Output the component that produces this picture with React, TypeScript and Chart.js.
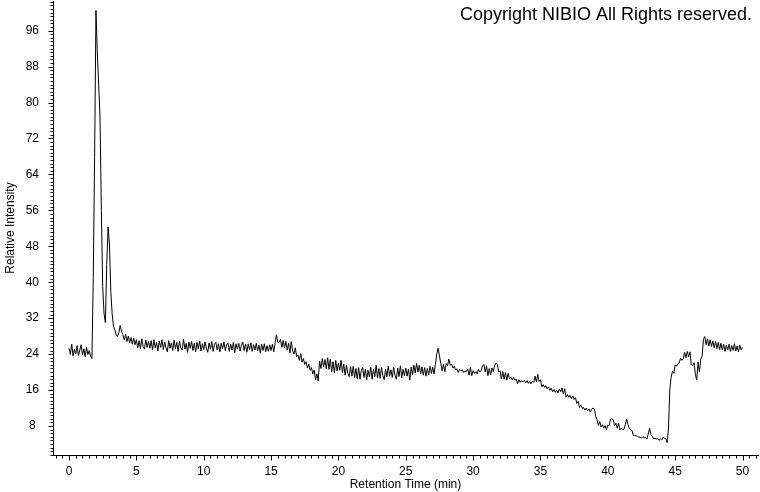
import React, { useEffect, useRef } from 'react';
import { Chart, registerables } from 'chart.js';

Chart.register(...registerables);

// Sampling grid of the chromatogram (minutes)
const sampleStart = 0;
const sampleStep = 0.1;

// Relative intensity, one row per minute (t = m.0 … m.9), last value at 50.0
const intensity: number[] = [
  25.3, 23.9, 26.2, 23.6, 25.1, 24.0, 25.9, 23.7, 24.9, 26.1, // 0
  23.8, 25.2, 23.4, 25.5, 23.9, 24.8, 23.5, 23.0, 41.0, 68.0, // 1
  100.5, 91.0, 84.0, 77.0, 56.0, 39.0, 33.0, 31.0, 44.0, 52.3, // 2
  48.5, 38.0, 33.0, 30.2, 29.4, 28.3, 27.9, 28.8, 30.4, 29.1, // 3
  28.3, 27.1, 28.4, 26.8, 28.0, 26.5, 27.7, 26.2, 27.6, 26.1, // 4
  27.2, 25.4, 27.0, 25.2, 27.4, 25.7, 25.1, 27.1, 25.5, 26.8, // 5
  25.3, 27.0, 24.9, 27.2, 25.4, 26.6, 24.7, 26.9, 25.5, 27.2, // 6
  25.0, 26.7, 25.4, 24.5, 27.0, 25.3, 26.5, 24.8, 27.1, 25.2, // 7
  26.6, 24.6, 26.9, 25.4, 24.9, 27.3, 25.1, 26.4, 24.4, 26.7, // 8
  25.3, 26.8, 24.8, 26.4, 24.5, 26.6, 25.2, 26.9, 24.7, 26.3, // 9
  25.0, 26.7, 25.3, 24.4, 26.5, 25.1, 26.8, 24.6, 26.2, 26.6, // 10
  24.9, 26.3, 24.5, 26.4, 25.2, 26.7, 24.8, 26.1, 26.5, 24.6, // 11
  26.2, 24.9, 26.6, 24.3, 26.3, 25.1, 26.4, 24.7, 26.0, 26.7, // 12
  24.8, 26.2, 24.4, 26.3, 25.0, 26.5, 24.6, 26.1, 24.9, 26.4, // 13
  24.7, 26.0, 24.2, 26.2, 24.8, 26.3, 24.5, 25.9, 24.6, 26.1, // 14
  24.8, 26.2, 24.5, 26.5, 28.3, 26.6, 26.6, 27.3, 25.5, 27.0, // 15
  25.4, 26.8, 24.9, 26.4, 24.3, 26.8, 24.7, 24.0, 25.4, 23.4, // 16
  23.8, 22.6, 24.1, 22.2, 23.0, 21.7, 22.3, 20.9, 21.8, 20.4, // 17
  21.0, 19.6, 20.4, 18.3, 19.6, 18.0, 22.4, 20.8, 23.0, 21.1, // 18
  22.8, 20.7, 23.2, 20.6, 22.9, 20.1, 22.3, 19.8, 22.6, 20.3, // 19
  22.0, 20.4, 22.6, 19.9, 21.8, 19.3, 21.5, 19.7, 19.0, 21.2, // 20
  19.1, 21.3, 18.7, 20.8, 18.5, 21.0, 18.4, 20.3, 21.1, 18.8, // 21
  20.6, 18.3, 20.4, 18.9, 21.1, 18.4, 20.7, 19.0, 21.5, 18.7, // 22
  20.8, 18.6, 21.0, 19.2, 18.3, 20.7, 18.9, 21.3, 19.1, 20.5, // 23
  18.8, 21.1, 19.3, 18.4, 20.9, 19.0, 21.4, 18.7, 20.6, 19.2, // 24
  20.9, 19.1, 20.7, 18.2, 21.1, 19.4, 21.5, 19.8, 21.9, 20.0, // 25
  21.5, 19.6, 21.2, 19.3, 21.0, 19.1, 20.8, 19.4, 21.3, 19.7, // 26
  21.1, 19.6, 21.7, 24.0, 25.3, 23.6, 21.9, 20.3, 21.7, 20.1, // 27
  21.9, 21.4, 22.9, 21.5, 21.8, 20.9, 21.3, 20.5, 20.7, 19.9, // 28
  20.6, 20.3, 20.5, 19.9, 20.2, 20.1, 20.7, 19.3, 21.0, 19.2, // 29
  20.3, 19.7, 20.1, 19.6, 20.6, 20.0, 20.4, 21.4, 21.7, 20.0, // 30
  21.3, 19.2, 20.8, 19.4, 20.9, 20.1, 21.5, 22.0, 21.7, 20.0, // 31
  20.3, 18.5, 20.1, 18.4, 19.9, 18.2, 19.7, 18.5, 18.9, 18.3, // 32
  18.8, 18.2, 18.4, 17.4, 18.3, 17.7, 18.1, 17.8, 18.2, 17.6, // 33
  18.1, 17.5, 17.9, 17.4, 18.0, 17.7, 19.1, 17.8, 19.5, 17.9, // 34
  18.3, 16.7, 17.2, 16.6, 17.0, 16.3, 16.7, 15.9, 16.4, 15.6, // 35
  16.1, 15.5, 16.0, 15.4, 16.2, 15.6, 16.5, 15.1, 16.3, 14.4, // 36
  15.0, 14.4, 14.8, 14.1, 14.7, 13.9, 14.3, 13.0, 13.5, 12.1, // 37
  12.7, 11.9, 12.1, 11.5, 12.0, 11.4, 11.8, 11.1, 11.7, 12.0, // 38
  11.8, 10.2, 9.4, 8.1, 9.0, 7.8, 8.3, 7.5, 8.1, 7.2, // 39
  8.2, 8.0, 9.5, 9.6, 9.4, 8.1, 8.6, 7.5, 8.6, 7.1, // 40
  7.5, 7.2, 7.3, 8.3, 9.5, 8.3, 7.4, 7.2, 6.9, 5.9, // 41
  5.9, 5.8, 5.7, 5.5, 5.5, 5.3, 5.6, 5.4, 5.4, 5.1, // 42
  6.2, 7.5, 6.1, 5.7, 5.1, 5.3, 5.1, 5.2, 4.8, 5.1, // 43
  4.9, 5.5, 5.3, 5.2, 4.3, 7.1, 16.0, 18.8, 20.2, 19.7, // 44
  21.6, 21.3, 21.9, 22.0, 23.1, 22.6, 23.0, 24.4, 23.2, 24.6, // 45
  23.4, 24.5, 21.6, 21.4, 22.1, 19.5, 18.2, 22.2, 20.0, 22.9, // 46
  23.5, 27.3, 27.9, 26.1, 27.4, 25.8, 27.2, 25.7, 26.9, 25.4, // 47
  26.8, 25.2, 26.6, 25.0, 26.4, 24.9, 26.2, 24.6, 26.0, 24.9, // 48
  26.2, 24.6, 25.9, 24.8, 26.3, 24.7, 25.8, 24.5, 26.0, 24.9, // 49
  25.5, // 50.0
];

const xMajorTicks = [0, 5, 10, 15, 20, 25, 30, 35, 40, 45, 50];
const yMajorTicks = [8, 16, 24, 32, 40, 48, 56, 64, 72, 80, 88, 96];
const xMinorStep = 0.5;
const yMinorStep = 0.8;
const xRange = [-1.19, 51.15];
const yRange = [1.54, 102.6];

const xTitle = 'Retention Time (min)';
const yTitle = 'Relative Intensity';
const copyrightText = 'Copyright NIBIO All Rights reserved.';

const FONT = '"Liberation Sans", Arial, sans-serif';

function buildTicks(min: number, max: number, step: number) {
  const out: { value: number }[] = [];
  const first = Math.ceil(min / step - 1e-9);
  for (let k = first; k * step <= max + 1e-9; k++) {
    out.push({ value: Math.round(k * step * 1000) / 1000 });
  }
  return out;
}

const isMajor = (v: number, majors: number[]) => majors.some((m) => Math.abs(m - v) < 1e-6);

const tickMarksPlugin = {
  id: 'tickMarks',
  afterDraw(chart: any) {
    const ctx = chart.ctx;
    const xs = chart.scales.x;
    const ys = chart.scales.y;
    ctx.save();
    ctx.strokeStyle = '#000';
    ctx.lineWidth = 1;
    ctx.beginPath();
    const xAxisY = Math.round(chart.chartArea.bottom) + 0.5;
    xs.ticks.forEach((t: any) => {
      const px = Math.round(xs.getPixelForValue(t.value)) + 0.5;
      const len = isMajor(t.value, xMajorTicks) ? 5 : 3;
      ctx.moveTo(px, xAxisY);
      ctx.lineTo(px, xAxisY + len);
    });
    const yAxisX = Math.round(chart.chartArea.left) + 0.5;
    ys.ticks.forEach((t: any) => {
      const py = Math.round(ys.getPixelForValue(t.value)) + 0.5;
      const len = isMajor(t.value, yMajorTicks) ? 5 : 3;
      ctx.moveTo(yAxisX, py);
      ctx.lineTo(yAxisX - len, py);
    });
    ctx.stroke();

    ctx.fillStyle = '#000';
    ctx.font = `18px ${FONT}`;
    ctx.textAlign = 'right';
    ctx.textBaseline = 'alphabetic';
    ctx.fillText(copyrightText, 752, 20);
    ctx.restore();
  },
};

export default function App() {
  const canvasRef = useRef<HTMLCanvasElement | null>(null);

  useEffect(() => {
    const canvas = canvasRef.current;
    if (!canvas) return;
    const points = intensity.map((y, i) => ({ x: sampleStart + i * sampleStep, y }));
    const chart = new Chart(canvas, {
      type: 'line',
      data: {
        datasets: [
          {
            data: points,
            borderColor: '#000',
            borderWidth: 1,
            pointRadius: 0,
            tension: 0,
            fill: false,
          },
        ],
      },
      options: {
        animation: false,
        responsive: false,
        devicePixelRatio: 1,
        layout: { padding: { left: 0, right: 2, top: 1, bottom: 0 } },
        plugins: {
          legend: { display: false },
          tooltip: { enabled: false },
          title: { display: false },
        },
        scales: {
          x: {
            type: 'linear',
            min: xRange[0],
            max: xRange[1],
            afterBuildTicks: (scale: any) => {
              scale.ticks = buildTicks(xRange[0], xRange[1], xMinorStep);
            },
            afterFit: (scale: any) => {
              scale.height = 37;
              scale.paddingLeft = 0;
              scale.paddingRight = 0;
            },
            grid: { display: false, drawTicks: false },
            border: { display: true, color: '#000', width: 1 },
            ticks: {
              autoSkip: false,
              maxRotation: 0,
              padding: 9.5,
              color: '#000',
              font: { family: FONT, size: 12 },
              callback: (v: any) => (isMajor(Number(v), xMajorTicks) ? String(Math.round(Number(v))) : ''),
            },
            title: {
              display: true,
              text: xTitle,
              color: '#000',
              font: { family: FONT, size: 12 },
              padding: { top: 0, bottom: 0 },
            },
          },
          y: {
            type: 'linear',
            min: yRange[0],
            max: yRange[1],
            afterBuildTicks: (scale: any) => {
              scale.ticks = buildTicks(yRange[0], yRange[1], yMinorStep);
            },
            afterFit: (scale: any) => {
              scale.width = 53;
              scale.paddingTop = 0;
              scale.paddingBottom = 0;
            },
            grid: { display: false, drawTicks: false },
            border: { display: true, color: '#000', width: 1 },
            ticks: {
              autoSkip: false,
              padding: 14,
              crossAlign: 'center',
              color: '#000',
              font: { family: FONT, size: 12 },
              callback: (v: any) => (isMajor(Number(v), yMajorTicks) ? String(Math.round(Number(v))) : ''),
            },
            title: {
              display: true,
              text: yTitle,
              color: '#000',
              font: { family: FONT, size: 12 },
              padding: { top: 3, bottom: 0 },
            },
          },
        },
      },
      plugins: [tickMarksPlugin],
    });
    return () => chart.destroy();
  }, []);

  return (
    <div style={{ position: 'fixed', left: 0, top: 0, width: 760, height: 492, background: '#fff' }}>
      <canvas ref={canvasRef} width={760} height={492} style={{ width: 760, height: 492, display: 'block' }} />
    </div>
  );
}
